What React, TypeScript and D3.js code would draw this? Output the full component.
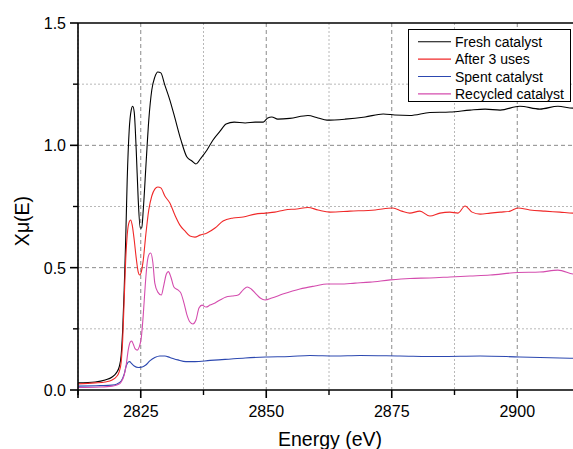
import React from "react";
import * as d3 from "d3";

// XANES spectra: energy (eV) and normalized absorption for each sample
const freshE = [2812.5, 2815.9, 2817.9, 2819.3, 2820.1, 2820.7, 2821.1, 2821.4, 2821.7, 2822.0, 2822.3, 2822.7, 2823.1, 2823.4, 2823.7, 2824.1, 2824.5, 2824.9, 2825.2, 2825.5, 2826.1, 2826.6, 2827.2, 2827.8, 2828.4, 2829.0, 2829.8, 2830.8, 2831.8, 2833.0, 2834.2, 2835.2, 2836.0, 2837.0, 2838.2, 2839.4, 2840.8, 2842.0, 2843.6, 2845.8, 2847.8, 2849.4, 2850.3, 2851.1, 2852.3, 2854.7, 2858.3, 2860.3, 2862.1, 2865.7, 2869.7, 2873.3, 2875.6, 2878.6, 2882.6, 2886.6, 2890.6, 2893.6, 2896.6, 2900.5, 2904.5, 2908.1, 2911.1, 2912.5];
const freshMu = [0.029, 0.033, 0.041, 0.053, 0.069, 0.094, 0.143, 0.245, 0.409, 0.613, 0.858, 1.063, 1.144, 1.16, 1.136, 0.98, 0.776, 0.662, 0.662, 0.736, 0.94, 1.103, 1.226, 1.279, 1.3, 1.296, 1.246, 1.185, 1.112, 1.022, 0.952, 0.936, 0.924, 0.948, 0.981, 1.022, 1.058, 1.087, 1.095, 1.091, 1.095, 1.095, 1.112, 1.116, 1.107, 1.11, 1.122, 1.112, 1.103, 1.107, 1.116, 1.128, 1.124, 1.122, 1.134, 1.136, 1.144, 1.148, 1.144, 1.16, 1.148, 1.16, 1.152, 1.152];

const usedE = [2812.5, 2815.9, 2817.9, 2819.3, 2820.1, 2820.7, 2821.1, 2821.4, 2821.7, 2822.0, 2822.3, 2822.7, 2823.0, 2823.3, 2823.7, 2824.1, 2824.5, 2824.8, 2825.1, 2825.5, 2826.0, 2826.6, 2827.2, 2827.8, 2828.4, 2829.0, 2829.8, 2830.8, 2831.8, 2832.8, 2833.8, 2834.8, 2835.8, 2836.8, 2838.2, 2839.8, 2841.4, 2843.4, 2845.4, 2847.8, 2849.8, 2851.7, 2853.7, 2856.1, 2858.3, 2860.3, 2862.7, 2866.7, 2871.7, 2875.2, 2877.0, 2878.6, 2880.6, 2882.6, 2884.6, 2886.6, 2888.2, 2889.6, 2891.0, 2892.6, 2894.6, 2896.6, 2898.6, 2900.1, 2902.5, 2905.5, 2908.5, 2911.1, 2912.5];
const usedMu = [0.025, 0.029, 0.033, 0.041, 0.053, 0.074, 0.114, 0.204, 0.368, 0.531, 0.633, 0.687, 0.695, 0.674, 0.613, 0.539, 0.482, 0.47, 0.482, 0.531, 0.633, 0.736, 0.793, 0.821, 0.83, 0.826, 0.793, 0.764, 0.715, 0.674, 0.65, 0.629, 0.625, 0.633, 0.642, 0.662, 0.691, 0.703, 0.707, 0.719, 0.723, 0.727, 0.736, 0.74, 0.746, 0.736, 0.727, 0.731, 0.736, 0.744, 0.731, 0.723, 0.731, 0.711, 0.723, 0.727, 0.723, 0.752, 0.727, 0.719, 0.723, 0.727, 0.731, 0.744, 0.736, 0.731, 0.727, 0.723, 0.723];

const spentE = [2812.5, 2816.9, 2819.3, 2820.3, 2821.1, 2821.7, 2822.1, 2822.5, 2822.8, 2823.1, 2823.7, 2824.5, 2825.3, 2826.0, 2826.8, 2827.8, 2828.8, 2829.8, 2830.8, 2832.4, 2834.0, 2835.8, 2838.8, 2841.8, 2845.8, 2849.9, 2854.7, 2858.7, 2863.7, 2868.7, 2876.6, 2884.6, 2892.6, 2900.5, 2908.5, 2912.5];
const spentMu = [0.016, 0.018, 0.02, 0.025, 0.037, 0.065, 0.098, 0.114, 0.116, 0.11, 0.098, 0.092, 0.094, 0.102, 0.119, 0.133, 0.139, 0.139, 0.133, 0.123, 0.116, 0.116, 0.121, 0.125, 0.131, 0.135, 0.137, 0.141, 0.139, 0.141, 0.139, 0.137, 0.139, 0.135, 0.131, 0.129];

const recycledE = [2812.5, 2816.9, 2819.3, 2820.5, 2821.1, 2821.7, 2822.1, 2822.5, 2822.9, 2823.2, 2823.5, 2823.9, 2824.3, 2824.7, 2825.1, 2825.5, 2825.9, 2826.3, 2826.7, 2827.0, 2827.4, 2827.8, 2828.4, 2829.1, 2829.6, 2830.1, 2830.5, 2831.0, 2831.6, 2832.4, 2833.0, 2833.6, 2834.2, 2834.8, 2835.4, 2836.0, 2836.6, 2837.2, 2838.0, 2838.8, 2839.8, 2840.8, 2842.0, 2843.2, 2844.4, 2845.4, 2846.2, 2847.0, 2848.0, 2848.8, 2849.8, 2851.1, 2853.3, 2856.7, 2859.7, 2862.1, 2864.7, 2867.7, 2870.7, 2874.7, 2878.6, 2882.6, 2886.6, 2890.6, 2894.6, 2900.1, 2904.5, 2908.1, 2911.1, 2912.5];
const recycledMu = [0.01, 0.012, 0.016, 0.022, 0.033, 0.061, 0.102, 0.163, 0.196, 0.2, 0.188, 0.168, 0.163, 0.176, 0.213, 0.307, 0.429, 0.523, 0.556, 0.56, 0.523, 0.437, 0.4, 0.388, 0.429, 0.474, 0.484, 0.462, 0.421, 0.409, 0.396, 0.356, 0.307, 0.278, 0.27, 0.286, 0.335, 0.347, 0.339, 0.347, 0.356, 0.368, 0.38, 0.384, 0.388, 0.409, 0.421, 0.413, 0.392, 0.376, 0.368, 0.376, 0.392, 0.413, 0.425, 0.433, 0.433, 0.437, 0.441, 0.45, 0.456, 0.458, 0.462, 0.466, 0.47, 0.48, 0.482, 0.49, 0.474, 0.47];

const seriesNames = ["Fresh catalyst", "After 3 uses", "Spent catalyst", "Recycled catalyst"];
const seriesColors = ["#000000", "#f02828", "#2c48b0", "#d44cae"];
const seriesEnergy = [freshE, usedE, spentE, recycledE];
const seriesMu = [freshMu, usedMu, spentMu, recycledMu];

const xMajorTicks = [2825, 2850, 2875, 2900];
const xMinorTicks = [2812.5, 2837.5, 2862.5, 2887.5, 2912.5];
const yMajorTicks = [0, 0.5, 1.0, 1.5];
const yMinorTicks = [0.25, 0.75, 1.25];

const W = 573;
const H = 449;
const left = 78;
const top = 23;
const bottom = 390;
const right = 580;
const font = "'Liberation Sans', Arial, sans-serif";

export default function App() {
  const x = d3.scaleLinear().domain([2812.5, 2912.5]).range([left, right]);
  const y = d3.scaleLinear().domain([0, 1.5]).range([bottom, top]);
  const line = d3
    .line<[number, number]>()
    .x((d) => x(d[0]))
    .y((d) => y(d[1]))
    .curve(d3.curveMonotoneX);

  return (
    <svg
      width={W}
      height={H}
      style={{ position: "fixed", left: 0, top: 0, background: "#fff" }}
      fontFamily={font}
    >
      <defs>
        <clipPath id="plot">
          <rect x={left} y={top} width={right - left} height={bottom - top} />
        </clipPath>
      </defs>
      <rect width={W} height={H} fill="#fff" />

      {/* grid */}
      {xMinorTicks.map((t) => (
        <line key={"gxm" + t} x1={x(t)} x2={x(t)} y1={top} y2={bottom} stroke="#b8b8b8" strokeWidth={1} strokeDasharray="2,2" />
      ))}
      {yMinorTicks.map((t) => (
        <line key={"gym" + t} x1={left} x2={right} y1={y(t)} y2={y(t)} stroke="#b8b8b8" strokeWidth={1} strokeDasharray="2,2" />
      ))}
      {xMajorTicks.map((t) => (
        <line key={"gx" + t} x1={x(t)} x2={x(t)} y1={top} y2={bottom} stroke="#8a8a8a" strokeWidth={1} strokeDasharray="4,3" />
      ))}
      {yMajorTicks.filter((t) => t > 0 && t < 1.5).map((t) => (
        <line key={"gy" + t} x1={left} x2={right} y1={y(t)} y2={y(t)} stroke="#8a8a8a" strokeWidth={1} strokeDasharray="4,3" />
      ))}

      {/* spectra */}
      <g clipPath="url(#plot)">
        {seriesNames.map((name, i) => {
          const pts = seriesEnergy[i].map((e, j) => [e, seriesMu[i][j]] as [number, number]);
          return <path key={name} d={line(pts) || ""} fill="none" stroke={seriesColors[i]} strokeWidth={1.1} />;
        })}
      </g>

      {/* axes frame */}
      <line x1={left} x2={right} y1={top} y2={top} stroke="#000" strokeWidth={1.6} />
      <line x1={left} x2={right} y1={bottom} y2={bottom} stroke="#000" strokeWidth={1.6} />
      <line x1={left} x2={left} y1={top} y2={bottom + 8} stroke="#000" strokeWidth={1.6} />

      {/* x ticks */}
      {xMajorTicks.map((t) => (
        <g key={"xt" + t}>
          <line x1={x(t)} x2={x(t)} y1={bottom} y2={bottom + 8} stroke="#000" strokeWidth={1.6} />
          <text x={x(t)} y={417} textAnchor="middle" fontSize={16} fill="#000">{t}</text>
        </g>
      ))}
      {xMinorTicks.map((t) => (
        <line key={"xmt" + t} x1={x(t)} x2={x(t)} y1={bottom} y2={bottom + 5} stroke="#000" strokeWidth={1.4} />
      ))}

      {/* y ticks */}
      {yMajorTicks.map((t) => (
        <g key={"yt" + t}>
          <line x1={left - 8} x2={left} y1={y(t)} y2={y(t)} stroke="#000" strokeWidth={1.6} />
          <text x={66} y={y(t) + 6} textAnchor="end" fontSize={16} fill="#000">{t.toFixed(1)}</text>
        </g>
      ))}
      {yMinorTicks.map((t) => (
        <line key={"ymt" + t} x1={left - 5} x2={left} y1={y(t)} y2={y(t)} stroke="#000" strokeWidth={1.4} />
      ))}

      {/* axis titles */}
      <text x={330} y={446} textAnchor="middle" fontSize={19.5} fill="#000">Energy (eV)</text>
      <text transform="translate(29,221) rotate(-90)" textAnchor="middle" fontSize={19.5} fill="#000">Xμ(E)</text>

      {/* legend */}
      <rect x={408.5} y={29.5} width={162} height={72} fill="#fff" stroke="#000" strokeWidth={1} />
      {seriesNames.map((name, i) => {
        const ly = 41.7 + i * 17.4;
        return (
          <g key={"lg" + name}>
            <line x1={418} x2={451} y1={ly} y2={ly} stroke={seriesColors[i]} strokeWidth={1.1} />
            <text x={455} y={ly + 5} fontSize={14} fill="#000">{name}</text>
          </g>
        );
      })}
    </svg>
  );
}
